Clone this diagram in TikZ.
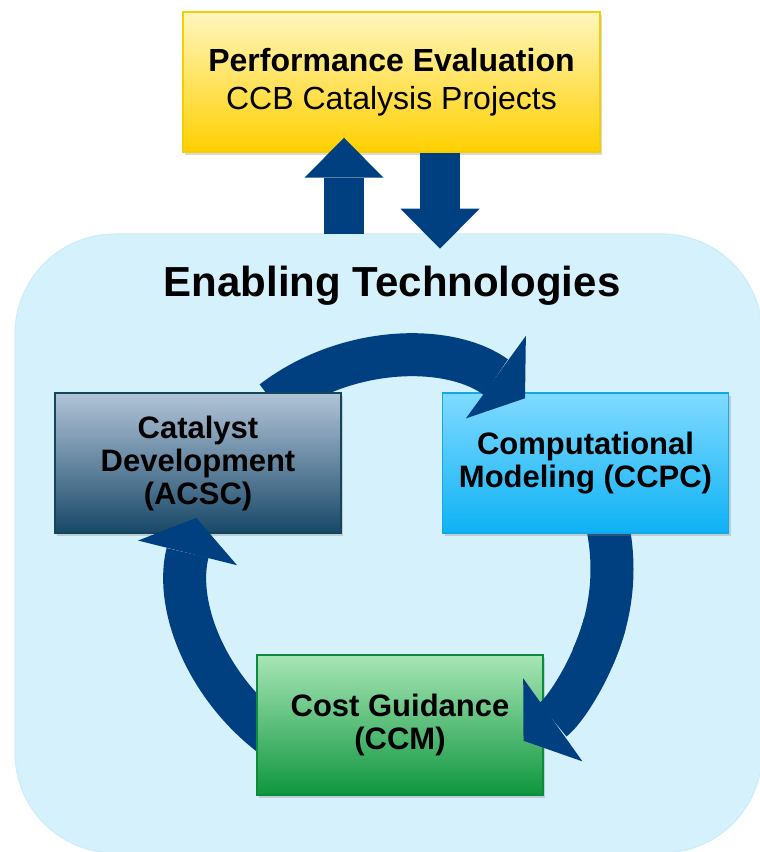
\documentclass[tikz,border=0pt]{standalone}
\usepackage{fontspec}
\setmainfont{Liberation Sans}
\usetikzlibrary{arrows.meta,shadows}

\definecolor{navy}{RGB}{0,64,128}
\definecolor{panel}{RGB}{213,241,252}
\definecolor{panelline}{RGB}{203,236,250}
\definecolor{perftop}{RGB}{255,246,190}
\definecolor{perfbot}{RGB}{255,208,0}
\definecolor{perfline}{RGB}{245,205,0}
\definecolor{cattop}{RGB}{178,196,216}
\definecolor{catbot}{RGB}{24,72,104}
\definecolor{catline}{RGB}{22,68,88}
\definecolor{comptop}{RGB}{128,218,255}
\definecolor{compbot}{RGB}{14,178,245}
\definecolor{compline}{RGB}{20,168,228}
\definecolor{costtop}{RGB}{168,230,182}
\definecolor{costbot}{RGB}{14,150,62}
\definecolor{costline}{RGB}{10,140,60}

\begin{document}
\begin{tikzpicture}[x=1pt,y=1pt,
  box/.style={draw,line width=1.5pt,minimum width=286pt,minimum height=140pt,
    inner sep=0pt,align=center,font=\fontsize{31}{33}\selectfont\bfseries,
    drop shadow={shadow xshift=2pt,shadow yshift=-3pt,opacity=0.3}},
  ring/.style={navy,line width=43pt},
  head/.style={-{Triangle[width=102pt,length=36pt,line width=0pt]}},
  updown/.style={navy,line width=40pt,-{Triangle[width=79pt,length=40pt,line width=0pt]}}]
\clip (0,0) rectangle (760,852);
\filldraw[fill=panel,draw=panelline,line width=1pt,rounded corners=100pt] (15,-1) rectangle (762,618);

\node[box,minimum width=417pt,top color=perftop,bottom color=perfbot,draw=perfline,
  font=\fontsize{32}{38}\selectfont] (perf) at (391.5,770)
  {\textbf{Performance Evaluation}\\CCB Catalysis Projects};
\node[font=\fontsize{42}{50}\selectfont\bfseries,anchor=base] (title) at (392,555) {Enabling Technologies};

\draw[updown] ([xshift=-47.5pt,yshift=-81pt]perf.south) -- ([xshift=-47.5pt,yshift=15pt]perf.south);
\draw[updown] ([xshift=48.5pt]perf.south) -- ([xshift=48.5pt,yshift=-96pt]perf.south);

\coordinate (hub) at (401,283);
\draw[ring] (hub) ++(15:211) arc[start angle=15,end angle=-25,radius=211];
\node[box,top color=comptop,bottom color=compbot,draw=compline] (comp) at (585.5,389) {Computational\\Modeling (CCPC)};
\draw[ring,head] (hub) ++(127.5:211) arc[start angle=127.5,end angle=54,radius=211];
\node[box,top color=cattop,bottom color=catbot,draw=catline] (cat) at (198,389) {Catalyst\\Development\\(ACSC)};
\draw[ring,head] (hub) ++(-115:211) arc[start angle=-115,end angle=-194,radius=211];
\node[box,top color=costtop,bottom color=costbot,draw=costline] (cost) at (400,127) {Cost Guidance\\(CCM)};
\draw[ring,head] (hub) ++(-15:211) arc[start angle=-15,end angle=-54.5,radius=211];
\end{tikzpicture}
\end{document}
